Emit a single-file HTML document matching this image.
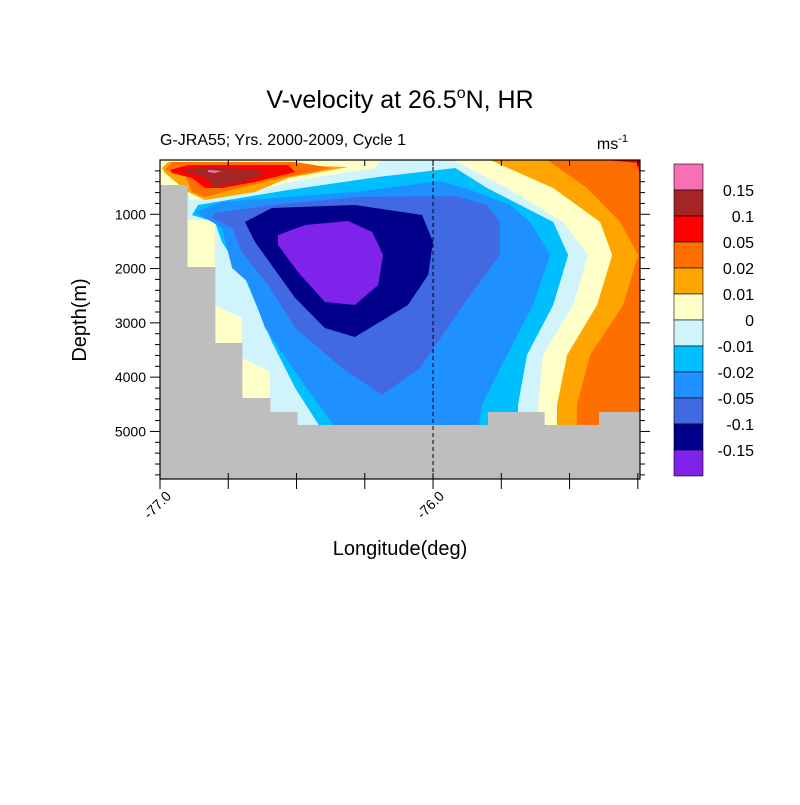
<!DOCTYPE html>
<html><head><meta charset="utf-8"><style>
body{margin:0;background:#fff;}
svg text{font-family:"Liberation Sans",sans-serif;}
</style></head><body>
<svg id="c" width="800" height="800" viewBox="0 0 800 800" xmlns="http://www.w3.org/2000/svg">
<rect width="800" height="800" fill="#fff"/>
<text x="400" y="108" text-anchor="middle" font-size="25">V-velocity at 26.5<tspan dy="-10" font-size="16">o</tspan><tspan dy="10">N, HR</tspan></text>
<text x="160" y="145" font-size="16">G-JRA55; Yrs. 2000-2009, Cycle 1</text>
<text x="628" y="149" text-anchor="end" font-size="16">ms<tspan dy="-7" font-size="11">-1</tspan></text>
<text transform="translate(86,320) rotate(-90)" text-anchor="middle" font-size="20">Depth(m)</text>
<text x="400" y="555" text-anchor="middle" font-size="20">Longitude(deg)</text>
<g id="plot"></g>
<g id="axes"></g>
<g id="cbar"></g>
</svg>
<script>
const lonMin=-77, lonMax=-75.242, depMax=5876;
const colors={pink:"#f76fb5",darkred:"#a52424",red:"#ff0000",orange:"#ff6f00",orangeL:"#ffa500",yellow:"#ffffc8",lcyan:"#d0f4fc",cyan:"#00bfff",dodger:"#1e90ff",royal:"#4169e1",navy:"#00008b",purple:"#7f22ea",gray:"#bebebe"};
// contour regions [lon, depth(m)]
const yellowTL=[[-77,0],[-76.187,0],[-76.212,147],[-76.487,368],[-76.744,663],[-76.890,737],[-76.901,516],[-77,516]];
const orangeLTL=[[-76.993,147],[-76.971,37],[-76.311,129],[-76.531,332],[-76.652,589],[-76.835,737],[-76.897,589],[-76.982,239]];
const orangeTL=[[-76.982,184],[-76.956,37],[-76.505,37],[-76.370,147],[-76.553,332],[-76.714,516],[-76.835,682],[-76.883,589],[-76.908,276]];
const redTL=[[-76.963,184],[-76.897,92],[-76.531,92],[-76.505,221],[-76.652,405],[-76.773,516],[-76.835,516],[-76.883,332],[-76.956,239]];
const darkredTL=[[-76.925,190],[-76.835,140],[-76.652,170],[-76.620,276],[-76.714,420],[-76.799,510],[-76.835,332]];
const pinkTL=[[-76.824,184],[-76.773,203],[-76.799,239],[-76.824,221]];
const yellowR=[[-75.927,0],[-75.729,516],[-75.524,1142],[-75.432,1750],[-75.487,2671],[-75.597,3592],[-75.615,4513],[-75.615,4973],[-75.242,4973],[-75.242,0]];
const orangeLR=[[-75.791,0],[-75.560,516],[-75.388,1142],[-75.344,1750],[-75.399,2671],[-75.509,3592],[-75.546,4513],[-75.546,4973],[-75.242,4973],[-75.242,0]];
const orangeR=[[-75.582,0],[-75.436,516],[-75.315,1142],[-75.249,1750],[-75.304,2671],[-75.425,3592],[-75.473,4513],[-75.473,4973],[-75.242,4973],[-75.242,0]];
const redR=[[-75.366,0],[-75.242,0],[-75.242,276],[-75.253,55]];
const yellowP1=[[-76.901,1105],[-76.799,1105],[-76.799,1971],[-76.901,1971]];
const yellowP2=[[-76.799,2671],[-76.700,2910],[-76.700,3371],[-76.799,3371]];
const yellowP3=[[-76.700,3647],[-76.597,3905],[-76.597,4384],[-76.700,4384]];
const cyanR=[[-76.861,829],[-76.531,553],[-76.201,313],[-75.919,147],[-75.802,516],[-75.560,1142],[-75.505,1750],[-75.560,2671],[-75.656,3592],[-75.689,4513],[-75.689,4973],[-76.407,4973],[-76.505,4200],[-76.590,3352],[-76.689,2174],[-76.773,1510],[-76.799,1142],[-76.883,1013]];
const dodgerR=[[-76.872,958],[-76.773,774],[-76.286,589],[-75.974,387],[-75.864,553],[-75.718,829],[-75.645,1142],[-75.571,1750],[-75.634,2671],[-75.729,3592],[-75.821,4513],[-75.835,4973],[-76.352,4973],[-76.505,3905],[-76.615,3095],[-76.678,2247],[-76.736,1989],[-76.773,1253],[-76.810,1142]];
const royalR=[[-76.810,1068],[-76.799,976],[-76.590,829],[-76.267,682],[-75.919,663],[-75.802,829],[-75.755,1142],[-75.755,1750],[-75.890,2671],[-76.048,3831],[-76.187,4329],[-76.333,3831],[-76.505,3095],[-76.604,2303],[-76.700,1695],[-76.736,1253]];
const navyR=[[-76.689,1142],[-76.590,884],[-76.286,829],[-76.040,1013],[-76.000,1510],[-76.018,2118],[-76.092,2671],[-76.286,3260],[-76.396,3095],[-76.505,2542],[-76.652,1510]];
const purpleR=[[-76.568,1382],[-76.469,1197],[-76.311,1124],[-76.223,1326],[-76.183,1750],[-76.201,2303],[-76.286,2671],[-76.396,2616],[-76.495,2063],[-76.568,1566]];
// bathymetry
const bathyLonEdges=[-77,-76.901,-76.799,-76.700,-76.597,-76.498,-75.799,-75.593,-75.392,-75.242];
const bathyDepth=[461,1971,3371,4384,4642,4881,4642,4881,4642];
// axis ticks
const depthTicks=[1000,2000,3000,4000,5000];
const lonTickLabels=["-77.0","-76.0"];
const lonTickValues=[-77,-76];
const cbLabels=["0.15","0.1","0.05","0.02","0.01","0","-0.01","-0.02","-0.05","-0.1","-0.15"];
const cbColors=["pink","darkred","red","orange","orangeL","yellow","lcyan","cyan","dodger","royal","navy","purple"];

const X0=160,X1=640,Y0=160,Y1=479;
const x=l=>X0+(l-lonMin)/(lonMax-lonMin)*(X1-X0);
const y=d=>Y0+d/depMax*(Y1-Y0);
const NS="http://www.w3.org/2000/svg";
function mk(tag,parent){const e=document.createElementNS(NS,tag);parent.appendChild(e);return e;}
const plot=document.getElementById('plot');
const bg=mk('rect',plot);


bg.setAttribute('x',X0);bg.setAttribute('y',Y0);bg.setAttribute('width',X1-X0);bg.setAttribute('height',Y1-Y0);bg.setAttribute('fill',colors.lcyan);
const layers=[["yellow-top-left",yellowTL,"yellow"],["orange-light-top-left",orangeLTL,"orangeL"],["orange-top-left",orangeTL,"orange"],["red-top-left",redTL,"red"],["darkred-top-left",darkredTL,"darkred"],["pink-top-left",pinkTL,"pink"],
["yellow-right",yellowR,"yellow"],["orange-light-right",orangeLR,"orangeL"],["orange-right",orangeR,"orange"],["red-right",redR,"red"],
["yellow-patch-1",yellowP1,"yellow"],["yellow-patch-2",yellowP2,"yellow"],["yellow-patch-3",yellowP3,"yellow"],
["cyan-region",cyanR,"cyan"],["dodger-region",dodgerR,"dodger"],["royal-region",royalR,"royal"],["navy-region",navyR,"navy"],["purple-core",purpleR,"purple"]];
layers.forEach(([n,pts,c])=>{
  const p=mk('polygon',plot);
  
  
  p.setAttribute('points',pts.map(q=>x(q[0]).toFixed(1)+','+y(Math.min(q[1],depMax)).toFixed(1)).join(' '));
  p.setAttribute('fill',colors[c]);
});
for(let i=0;i<bathyDepth.length;i++){
  const r=mk('rect',plot);
  
  
  const xa=x(bathyLonEdges[i]),xb=x(bathyLonEdges[i+1]),ya=y(bathyDepth[i]);
  r.setAttribute('x',xa);r.setAttribute('y',ya);r.setAttribute('width',xb-xa+0.5);r.setAttribute('height',Y1-ya);r.setAttribute('fill',colors.gray);
}
const dl=mk('line',plot);


dl.setAttribute('x1',x(-76));dl.setAttribute('x2',x(-76));dl.setAttribute('y1',Y0);dl.setAttribute('y2',Y1);dl.setAttribute('stroke','#000');dl.setAttribute('stroke-dasharray','4,3');

const ax=document.getElementById('axes');
const fr=mk('rect',ax);


fr.setAttribute('x',X0);fr.setAttribute('y',Y0);fr.setAttribute('width',X1-X0);fr.setAttribute('height',Y1-Y0);fr.setAttribute('fill','none');fr.setAttribute('stroke','#000');fr.setAttribute('stroke-width','1.2');
function ln(x1,y1,x2,y2,name){const l=mk('line',ax);l.setAttribute('x1',x1);l.setAttribute('y1',y1);l.setAttribute('x2',x2);l.setAttribute('y2',y2);l.setAttribute('stroke','#000');l.setAttribute('stroke-width','1');}
for(let d=200;d<depMax;d+=200){
  const major=d%1000===0, L=major?10:5;
  ln(X0-L,y(d),X0,y(d),'y-tick');ln(X1,y(d),X1+L,y(d),'y-tick-right');
}
depthTicks.forEach(d=>{const t=mk('text',ax);t.setAttribute('x',X0-14);t.setAttribute('y',y(d)+5);t.setAttribute('text-anchor','end');t.setAttribute('font-size','14');t.textContent=d;});
for(let l=-77;l<=lonMax+1e-6;l+=0.25){ln(x(l),Y1-6,x(l),Y1+10,'x-tick');ln(x(l),Y0,x(l),Y0+6,'x-tick-top');}
lonTickValues.forEach((v,i)=>{const t=mk('text',ax);t.setAttribute('transform',`translate(${x(v)+12},${Y1+18}) rotate(-45)`);t.setAttribute('text-anchor','end');t.setAttribute('font-size','14');t.textContent=lonTickLabels[i];});

const cb=document.getElementById('cbar');
const CX=674,CW=29,CY=164,CH=26;
cbColors.forEach((c,i)=>{const r=mk('rect',cb);r.setAttribute('x',CX);r.setAttribute('y',CY+i*CH);r.setAttribute('width',CW);r.setAttribute('height',CH);r.setAttribute('fill',colors[c]);r.setAttribute('stroke','#000');r.setAttribute('stroke-width','0.6');});
cbLabels.forEach((s,i)=>{const t=mk('text',cb);t.setAttribute('x',754);t.setAttribute('y',CY+(i+1)*CH+6);t.setAttribute('text-anchor','end');t.setAttribute('font-size','16');t.textContent=s;});
</script>
</body></html>
